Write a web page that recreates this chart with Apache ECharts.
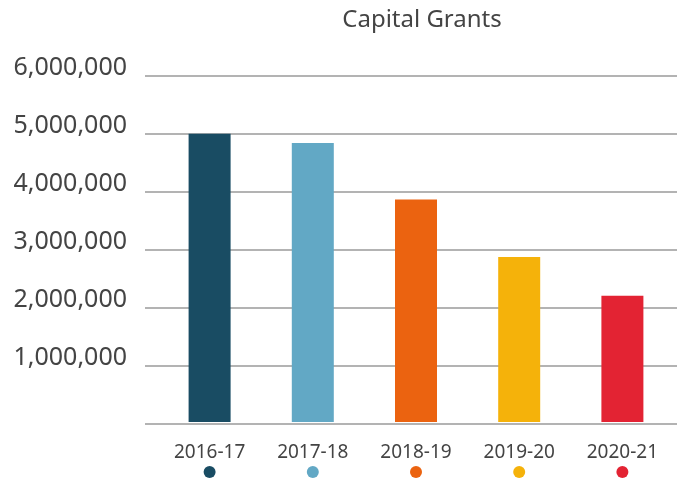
<!DOCTYPE html>
<html>
<head>
<meta charset="utf-8">
<script src="https://cdn.jsdelivr.net/npm/echarts@6/dist/echarts.min.js"></script>
<style>
  html, body { margin: 0; padding: 0; background: #fff; }
  #chart { width: 677px; height: 478px; }
</style>
</head>
<body>
<div id="chart"></div>
<script>
// data
const years = ['2016-17', '2017-18', '2018-19', '2019-20', '2020-21']
const grants = [5000000, 4840000, 3860000, 2860000, 2190000]
const barColors = ['#194c63', '#62a8c5', '#eb6310', '#f5b20a', '#e32333']
const yTicks = [0, 6000000, 1000000] // min, max, interval

const chart = echarts.init(document.getElementById('chart'))

// one dot style per year for the legend under the labels
const rich = {
  t: { fontSize: 19, lineHeight: 22, color: '#444', fontFamily: 'Noto Sans' }
}
barColors.forEach((c, i) => {
  rich['d' + i] = { width: 12, height: 12, borderRadius: 6, backgroundColor: c, lineHeight: 16 }
})

const option = {
  animation: false,
  title: {
    text: 'Capital Grants',
    left: 417,
    textAlign: 'center',
    top: 3,
    textStyle: { fontSize: 24, fontWeight: 'normal', color: '#444', fontFamily: 'Noto Sans' }
  },
  grid: [
    // wide grid only carries the gridlines and y labels
    { left: 145, right: 0, top: 76, bottom: 54 },
    // narrower grid holds the bars
    { left: 158, right: 3, top: 76, bottom: 54 }
  ],
  xAxis: [
    { gridIndex: 0, type: 'category', data: years, show: false },
    {
      gridIndex: 1,
      type: 'category',
      data: years,
      axisLine: { show: false },
      axisTick: { show: false },
      axisLabel: {
        margin: 20,
        formatter: (v, i) => '{t|' + v + '}\n{d' + i + '|}',
        rich: rich
      }
    }
  ],
  yAxis: [
    {
      gridIndex: 0,
      type: 'value',
      min: yTicks[0],
      max: yTicks[1],
      interval: yTicks[2],
      axisLine: { show: false },
      axisTick: { show: false },
      axisLabel: {
        margin: 18,
        fontSize: 25,
        color: '#444',
        fontFamily: 'Noto Sans',
        verticalAlign: 'bottom',
        lineHeight: 16,
        formatter: v => v === 0 ? '' : v.toLocaleString('en-US')
      },
      splitLine: { lineStyle: { color: '#9a9a9a', width: 1.5 } }
    },
    {
      gridIndex: 1,
      type: 'value',
      min: yTicks[0],
      max: yTicks[1],
      show: false,
      splitLine: { show: false }
    }
  ],
  series: [
    {
      type: 'bar',
      xAxisIndex: 1,
      yAxisIndex: 1,
      data: grants.map((v, i) => ({ value: v, itemStyle: { color: barColors[i] } })),
      barWidth: 42
    }
  ]
}

chart.setOption(option)
</script>
</body>
</html>
